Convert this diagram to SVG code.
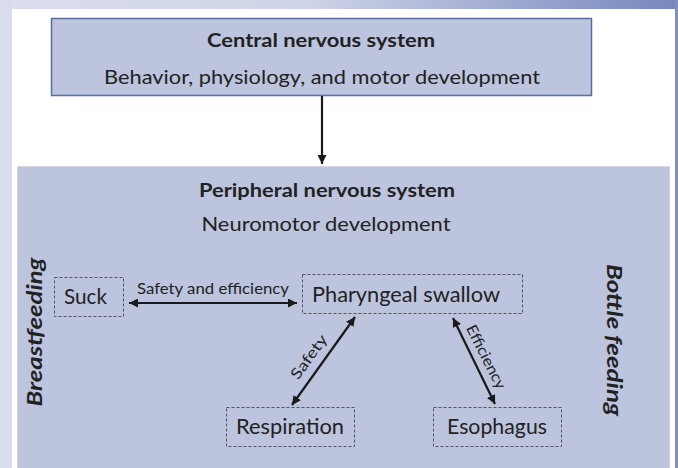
<svg xmlns="http://www.w3.org/2000/svg" width="678" height="468" viewBox="0 0 678 468">
<defs>
<linearGradient id="bg" x1="0" y1="0" x2="1" y2="0">
<stop offset="0" stop-color="#dadeed"/>
<stop offset="0.45" stop-color="#cfd4e8"/>
<stop offset="1" stop-color="#7787bd"/>
</linearGradient>
<marker id="ah" viewBox="0 0 10 10" refX="10" refY="5" markerWidth="9" markerHeight="9" markerUnits="userSpaceOnUse" orient="auto-start-reverse">
<path d="M0,0 L10,5 L0,10 z" fill="#1a1a1a"/>
</marker>
<style>
.t{font-family:Lato,"Open Sans","Liberation Sans",sans-serif;fill:#222}
.b{font-weight:bold}
.bi{font-weight:bold;font-style:italic}
.dash{fill:none;stroke:#555;stroke-width:1;stroke-dasharray:3,2}
.conn{stroke:#1a1a1a;stroke-width:2.2;fill:none}
</style>
</defs>
<rect x="0" y="0" width="678" height="9" fill="url(#bg)"/>
<rect x="0" y="0" width="12" height="468" fill="#d8dcec"/>
<rect x="675" y="0" width="3" height="468" fill="#7f8fc0"/>
<rect x="12" y="9" width="663" height="459" fill="#ffffff"/>

<g id="cns">
<rect x="51.5" y="18.5" width="540" height="77" fill="#bcc4de" stroke="#5a6e9e" stroke-width="1.5"/>
<text class="t b" x="321" y="47" font-size="19" text-anchor="middle" textLength="228" lengthAdjust="spacingAndGlyphs">Central nervous system</text>
<text class="t" x="322" y="84" font-size="19" text-anchor="middle" textLength="436" lengthAdjust="spacingAndGlyphs">Behavior, physiology, and motor development</text>
</g>

<g id="pns">
<rect x="17.5" y="166.5" width="652" height="303" fill="#bcc4de" stroke="#d4d6de" stroke-width="1"/>
<text class="t b" x="327" y="197" font-size="19" text-anchor="middle" textLength="256" lengthAdjust="spacingAndGlyphs">Peripheral nervous system</text>
<text class="t" x="326" y="231" font-size="19" text-anchor="middle" textLength="249" lengthAdjust="spacingAndGlyphs">Neuromotor development</text>
<text class="t bi" transform="translate(42,332) rotate(-90)" font-size="21.5" text-anchor="middle" textLength="149" lengthAdjust="spacingAndGlyphs">Breastfeeding</text>
<text class="t bi" transform="translate(607,340) rotate(90)" font-size="21.5" text-anchor="middle" textLength="152" lengthAdjust="spacingAndGlyphs">Bottle feeding</text>
</g>

<g id="suck">
<rect class="dash" x="54.5" y="277.5" width="69" height="39"/>
<text class="t" x="85.5" y="304" font-size="21.5" text-anchor="middle" textLength="43" lengthAdjust="spacingAndGlyphs">Suck</text>
</g>

<g id="swallow">
<rect class="dash" x="302.5" y="274.5" width="220" height="39"/>
<text class="t" x="406" y="302" font-size="21.5" text-anchor="middle" textLength="188" lengthAdjust="spacingAndGlyphs">Pharyngeal swallow</text>
</g>

<g id="respiration">
<rect class="dash" x="226.5" y="407.5" width="128" height="39"/>
<text class="t" x="290" y="434" font-size="21.5" text-anchor="middle" textLength="108" lengthAdjust="spacingAndGlyphs">Respiration</text>
</g>

<g id="esophagus">
<rect class="dash" x="433.5" y="407.5" width="128" height="39"/>
<text class="t" x="497" y="434" font-size="21.5" text-anchor="middle" textLength="100" lengthAdjust="spacingAndGlyphs">Esophagus</text>
</g>

<g id="connectors">
<line class="conn" x1="322" y1="96" x2="322" y2="164" marker-end="url(#ah)"/>
<line class="conn" x1="129" y1="303" x2="297" y2="303" marker-start="url(#ah)" marker-end="url(#ah)"/>
<line class="conn" x1="292" y1="405" x2="355" y2="317" marker-start="url(#ah)" marker-end="url(#ah)"/>
<line class="conn" x1="453" y1="318" x2="495" y2="404" marker-start="url(#ah)" marker-end="url(#ah)"/>
<text class="t" x="213" y="294" font-size="15.5" text-anchor="middle" textLength="152" lengthAdjust="spacingAndGlyphs">Safety and efficiency</text>
<text class="t" transform="translate(309,357) rotate(-54)" y="5" font-size="15" text-anchor="middle" textLength="51" lengthAdjust="spacingAndGlyphs">Safety</text>
<text class="t" transform="translate(486,357) rotate(63)" y="5" font-size="15" text-anchor="middle" textLength="70" lengthAdjust="spacingAndGlyphs">Efficiency</text>
</g>
</svg>
